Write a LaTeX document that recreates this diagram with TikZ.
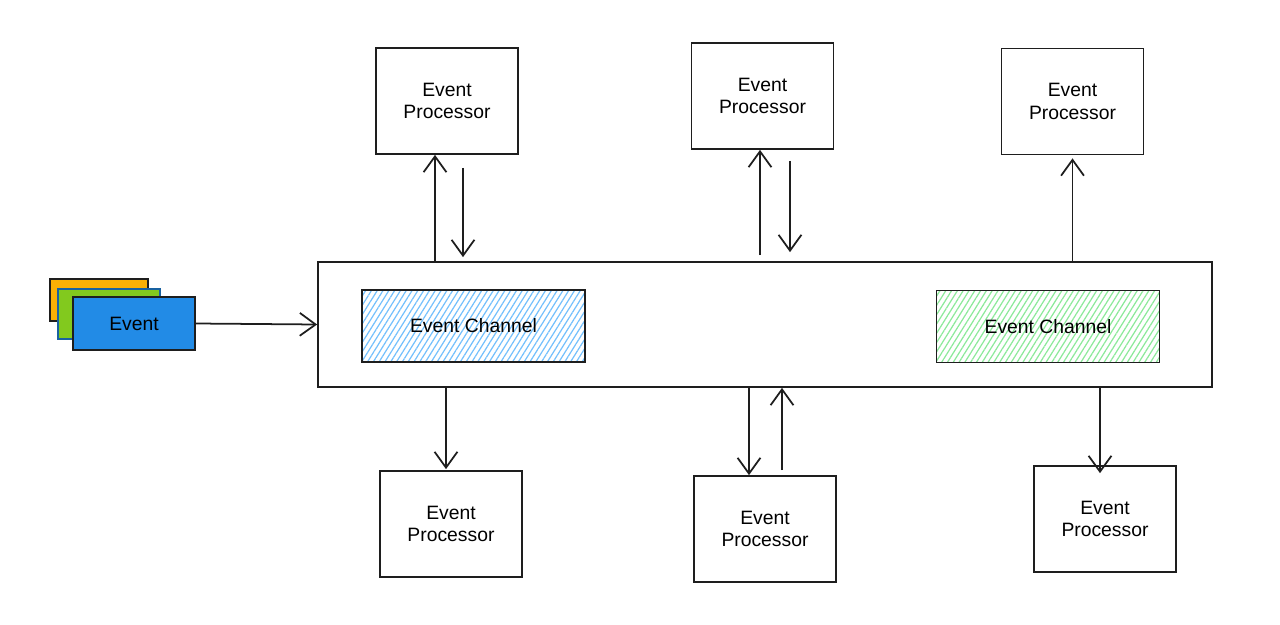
\documentclass[tikz,border=0pt]{standalone}
\usepackage{fontspec}
\setmainfont{Liberation Sans}
\usepackage{xcolor}
\usetikzlibrary{arrows.meta, positioning, patterns.meta, calc}
\definecolor{cdark}{HTML}{1E1E1E}
\definecolor{evorange}{HTML}{FAB005}
\definecolor{evgreen}{HTML}{82C91E}
\definecolor{evblue}{HTML}{228BE6}
\definecolor{hatchblue}{HTML}{74C0FC}
\definecolor{hatchgreen}{HTML}{8CE99A}

\begin{document}
\begin{tikzpicture}[
    font=\fontsize{11}{13}\selectfont,
    proc/.style={rectangle, minimum width=2.84cm, minimum height=2.12cm,
                 draw=cdark, line width=1pt, align=center, fill=white},
    chan/.style={rectangle, minimum width=4.46cm, minimum height=1.44cm,
                 draw=cdark, line width=1pt, align=center,
                 pattern={Lines[angle=58, distance=2.8pt, line width=0.7pt]}},
    evcard/.style={rectangle, draw=cdark, line width=1pt},
    arr/.style={draw=cdark, line width=1pt,
                -{Straight Barb[length=9pt, width=13pt, line width=1pt]}},
]
\useasboundingbox (0,0) rectangle (25.6,-12.5);

% bus and channels
\node[rectangle, draw=cdark, line width=1pt, minimum width=17.88cm,
      minimum height=2.5cm] (bus) at (15.30,-6.49) {};
\node[chan, pattern color=hatchblue] (ch1) at (9.47,-6.52) {};
\node at (ch1) {Event Channel};
\node[chan, pattern color=hatchgreen] (ch2) at (20.96,-6.53) {};
\node at (ch2) {Event Channel};

% incoming events
\node[evcard, fill=evorange, minimum width=1.96cm, minimum height=0.84cm] (ev1) at (1.98,-6.00) {};
\node[evcard, draw=evblue!70!black, fill=evgreen, minimum width=2.04cm, minimum height=1.0cm] (ev2) at (2.18,-6.28) {};
\node[evcard, fill=evblue, minimum width=2.44cm, minimum height=1.06cm] (ev3) at (2.68,-6.47) {Event};
\draw[arr] (ev3.east) -- (bus.west);

% processors
\node[proc] (p1) at (8.94,-2.02)  {Event\\Processor};
\node[proc] (p2) at (15.25,-1.92) {Event\\Processor};
\node[proc] (p3) at (21.45,-2.03) {Event\\Processor};
\node[proc] (p4) at (9.02,-10.48) {Event\\Processor};
\node[proc] (p5) at (15.30,-10.58) {Event\\Processor};
\node[proc] (p6) at (22.10,-10.38) {Event\\Processor};

% top links
\draw[arr] ([xshift=-0.24cm]p1.south |- bus.north) -- ([xshift=-0.24cm]p1.south);
\draw[arr] ([xshift=0.32cm,yshift=-0.26cm]p1.south) -- ([xshift=0.32cm,yshift=0.08cm]p1.south |- bus.north);
\draw[arr] ([xshift=-0.05cm,yshift=0.12cm]p2.south |- bus.north) -- ([xshift=-0.05cm]p2.south);
\draw[arr] ([xshift=0.55cm,yshift=-0.22cm]p2.south) -- ([xshift=0.55cm,yshift=0.18cm]p2.south |- bus.north);
\draw[arr] (p3.south |- bus.north) -- ([yshift=-0.06cm]p3.south);

% bottom links
\draw[arr] ([xshift=-0.10cm]p4.north |- bus.south) -- ([yshift=0.02cm,xshift=-0.10cm]p4.north);
\draw[arr] ([xshift=-0.32cm]p5.north |- bus.south) -- ([xshift=-0.32cm]p5.north);
\draw[arr] ([xshift=0.34cm,yshift=0.10cm]p5.north) -- ([xshift=0.34cm]p5.north |- bus.south);
\draw[arr] ([xshift=-0.10cm]p6.north |- bus.south) -- ([xshift=-0.10cm,yshift=-0.16cm]p6.north);
\end{tikzpicture}
\end{document}
